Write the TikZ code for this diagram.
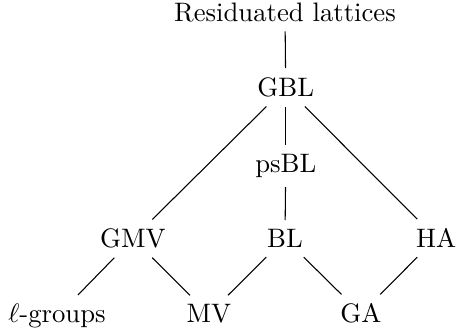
\documentclass[tikz,border=0pt]{standalone}
\begin{document}
\begin{tikzpicture}[lat/.style={anchor=base,inner sep=0.333em}]
\useasboundingbox (0,0) rectangle (6.04,4.34);
\node[lat] (res) at (3.75,4.06) {Residuated lattices};
\node[lat] (gbl) at (3.76,3.07) {GBL};
\node[lat] (psbl) at (3.76,2.07) {psBL};
\node[lat] (gmv) at (1.75,1.08) {GMV};
\node[lat] (bl) at (3.75,1.08) {BL};
\node[lat] (ha) at (5.74,1.08) {HA};
\node[lat] (lg) at (0.75,0.09) {$\ell$-groups};
\node[lat] (mv) at (2.75,0.09) {MV};
\node[lat] (ga) at (4.75,0.09) {GA};
\draw (res) -- (gbl);
\draw (gbl) -- (psbl);
\draw (psbl) -- (bl);
\draw (gbl) -- (gmv);
\draw (gbl) -- (ha);
\draw (gmv) -- (lg);
\draw (gmv) -- (mv);
\draw (bl) -- (mv);
\draw (bl) -- (ga);
\draw (ha) -- (ga);
\end{tikzpicture}
\end{document}
